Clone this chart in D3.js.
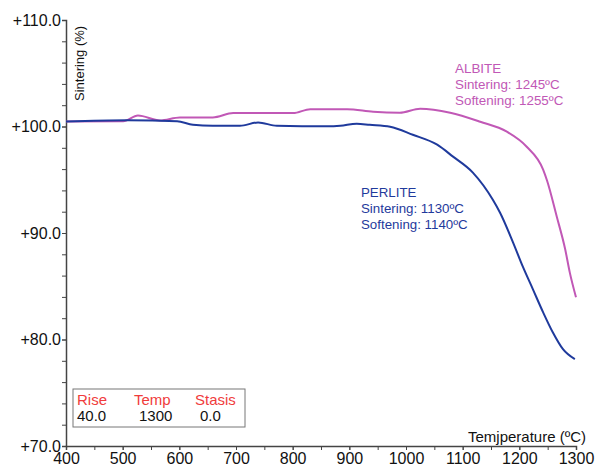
<!DOCTYPE html>
<html>
<head>
<meta charset="utf-8">
<script src="https://cdn.jsdelivr.net/npm/d3@7"></script>
<style>
  body { margin: 0; background: #fff; }
  text { font-family: "Liberation Sans", Arial, Helvetica, sans-serif; }
</style>
</head>
<body>
<div id="chart"></div>
<script>
// taille du dessin
const width = 595;
const height = 467;
const margin = {top: 20, right: 19, bottom: 21, left: 66};

// donnees (temperature en C, frittage en %)
const perliteTemp = [400, 508, 596, 624, 659, 707, 739, 772, 861, 884, 913, 936, 972, 1012, 1055, 1083, 1118, 1153, 1166, 1189, 1206, 1224, 1242, 1259, 1277, 1298];
const perliteVal = [100.47, 100.59, 100.49, 100.16, 100.07, 100.07, 100.38, 100.07, 100.02, 100.07, 100.26, 100.16, 99.98, 99.23, 98.29, 97.17, 95.67, 93.14, 91.9, 89.1, 86.86, 84.71, 82.55, 80.68, 79.09, 78.15];

const albiteTemp = [400, 501, 527, 566, 601, 659, 695, 801, 831, 896, 942, 989, 1025, 1078, 1131, 1178, 1213, 1242, 1249, 1266, 1281, 1289, 1300];
const albiteVal = [100.47, 100.49, 101.03, 100.57, 100.85, 100.85, 101.26, 101.26, 101.63, 101.63, 101.38, 101.29, 101.66, 101.29, 100.44, 99.51, 98.10, 95.95, 94.9, 91.55, 88.45, 86.3, 83.96];

const xTicks = [400, 500, 600, 700, 800, 900, 1000, 1100, 1200, 1300];
const yTicks = [70, 80, 90, 100, 110];

const legendHeads = ["Rise", "Temp", "Stasis"];
const legendValues = ["40.0", "1300", "0.0"];

const perliteText = ["PERLITE", "Sintering: 1130ºC", "Softening: 1140ºC"];
const albiteText = ["ALBITE", "Sintering: 1245ºC", "Softening: 1255ºC"];

const blue = "#1f3a9c";
const magenta = "#c158b6";
const axisColor = "#444";

var svg = d3.select("#chart")
    .append("svg")
    .attr("width", width)
    .attr("height", height);

var x = d3.scaleLinear()
    .domain([400, 1300])
    .range([margin.left, width - margin.right]);

var y = d3.scaleLinear()
    .domain([70, 110])
    .range([height - margin.bottom, margin.top]);

// axe x : graduations tous les 50, etiquettes tous les 100
var xAxis = svg.append("g")
    .attr("transform", "translate(0," + y(70) + ")");
xAxis.append("g")
    .call(d3.axisBottom(x).tickValues(d3.range(400, 1301, 50)).tickSize(4).tickFormat(""))
    .call(g => g.select(".domain").remove());
xAxis.append("g")
    .call(d3.axisBottom(x).tickValues(xTicks).tickSize(4).tickPadding(3).tickFormat(d3.format("d")))
    .call(g => g.selectAll("text").style("font-size", "16px").attr("fill", "#111"));
xAxis.selectAll("line").attr("stroke", axisColor);
xAxis.selectAll(".domain").attr("stroke", axisColor).attr("stroke-width", 1.5);

// axe y : graduations tous les 2 %
var yAxis = svg.append("g")
    .attr("transform", "translate(" + x(400) + ",0)");
yAxis.append("g")
    .call(d3.axisLeft(y).tickValues(d3.range(70, 110.1, 2)).tickSize(4).tickFormat(""))
    .call(g => g.select(".domain").remove());
yAxis.append("g")
    .call(d3.axisLeft(y).tickValues(yTicks).tickSize(4).tickPadding(1)
        .tickFormat(d => "+" + d3.format(".1f")(d)))
    .call(g => g.selectAll("text").style("font-size", "16px").attr("fill", "#111"));
yAxis.selectAll("line").attr("stroke", axisColor);
yAxis.selectAll(".domain").attr("stroke", axisColor).attr("stroke-width", 1.5);

// titres des axes
svg.append("text")
    .attr("transform", "translate(84,101) rotate(-90)")
    .style("font-size", "13px")
    .attr("fill", "#111")
    .text("Sintering (%)");

svg.append("text")
    .attr("x", 586)
    .attr("y", 442)
    .attr("text-anchor", "end")
    .style("font-size", "15px")
    .attr("fill", "#111")
    .text("Temjperature (ºC)");

// courbes
var line = d3.line()
    .x(d => x(d[0]))
    .y(d => y(d[1]))
    .curve(d3.curveMonotoneX);

svg.append("path")
    .datum(d3.zip(albiteTemp, albiteVal))
    .attr("d", line)
    .attr("fill", "none")
    .attr("stroke", magenta)
    .attr("stroke-width", 2);

svg.append("path")
    .datum(d3.zip(perliteTemp, perliteVal))
    .attr("d", line)
    .attr("fill", "none")
    .attr("stroke", blue)
    .attr("stroke-width", 2);

// annotations
svg.append("g")
    .selectAll("text")
    .data(albiteText)
    .join("text")
    .attr("x", 455)
    .attr("y", (d, i) => 73 + i * 16)
    .style("font-size", "13.4px")
    .attr("fill", magenta)
    .text(d => d);

svg.append("g")
    .selectAll("text")
    .data(perliteText)
    .join("text")
    .attr("x", 361)
    .attr("y", (d, i) => 197 + i * 16)
    .style("font-size", "13.3px")
    .attr("fill", blue)
    .text(d => d);

// legende en bas a gauche
var legend = svg.append("g");
legend.append("rect")
    .attr("x", 73)
    .attr("y", 389)
    .attr("width", 172)
    .attr("height", 38)
    .attr("fill", "#fff")
    .attr("stroke", "#777")
    .attr("stroke-width", 1);

var colX = [77, 134, 195];
var valX = [77, 139, 200];
legend.selectAll(".head")
    .data(legendHeads)
    .join("text")
    .attr("class", "head")
    .attr("x", (d, i) => colX[i])
    .attr("y", 405)
    .style("font-size", "15px")
    .attr("fill", "#f03c3c")
    .text(d => d);
legend.selectAll(".val")
    .data(legendValues)
    .join("text")
    .attr("class", "val")
    .attr("x", (d, i) => valX[i])
    .attr("y", 421)
    .style("font-size", "15px")
    .attr("fill", "#111")
    .text(d => d);
</script>
</body>
</html>
